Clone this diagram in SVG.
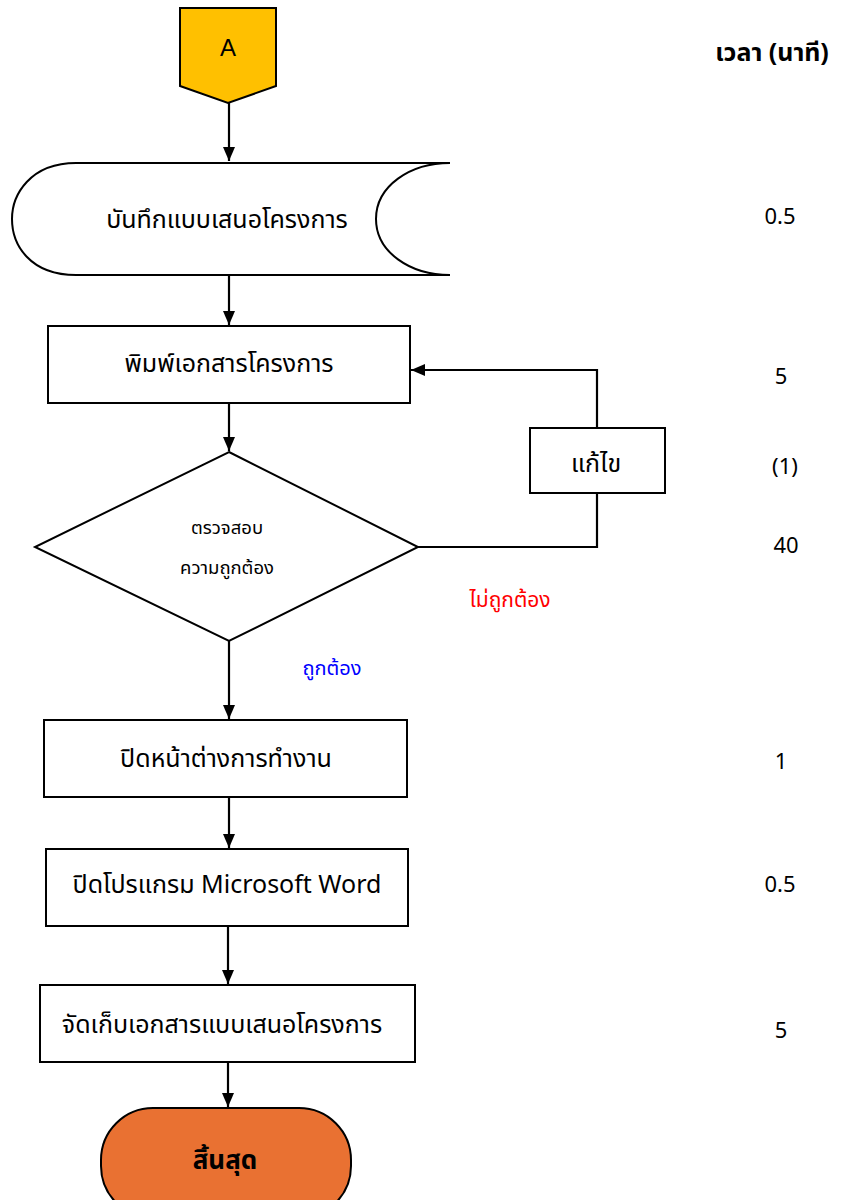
<svg xmlns="http://www.w3.org/2000/svg" width="847" height="1200" viewBox="0 0 847 1200">
<style>
.s{stroke:#000;stroke-width:2;fill:#fff}
.c{stroke:#000;stroke-width:2.2;fill:none}
.t{font-family:"Noto Sans","Noto Sans Thai","DejaVu Sans",sans-serif;font-size:25px;fill:#000;text-anchor:middle}
.m{font-family:"Noto Sans","Noto Sans Thai","DejaVu Sans",sans-serif;font-size:22px;fill:#000;text-anchor:middle}
.d{font-family:"Noto Sans","Noto Sans Thai","DejaVu Sans",sans-serif;font-size:18.5px;fill:#000;text-anchor:middle}
</style>
<defs>
<marker id="a" viewBox="0 0 14 14" refX="14" refY="7" markerWidth="14" markerHeight="14" markerUnits="userSpaceOnUse" orient="auto">
<path d="M0,1 L14,7 L0,13 z" fill="#000"/>
</marker>
</defs>
<rect width="847" height="1200" fill="#fff"/>
<g id="connectors">
<path class="c" d="M229,103 V161" marker-end="url(#a)"/>
<path class="c" d="M229,276 V325" marker-end="url(#a)"/>
<path class="c" d="M229,403 V451" marker-end="url(#a)"/>
<path class="c" d="M418,547 H597 V494"/>
<path class="c" d="M597,428 V370 H411" marker-end="url(#a)"/>
<path class="c" d="M229,641 V719" marker-end="url(#a)"/>
<path class="c" d="M229,797 V848" marker-end="url(#a)"/>
<path class="c" d="M228,926 V984" marker-end="url(#a)"/>
<path class="c" d="M228,1062 V1107" marker-end="url(#a)"/>
</g>
<g id="nodeA">
<path d="M180,8 H276 V86 L228,103 L180,86 Z" fill="#FFC000" stroke="#000" stroke-width="2"/>
<text x="228" y="56" style="font-family:'Liberation Sans',Arial,sans-serif;font-size:24px;text-anchor:middle">A</text>
</g>
<g id="stored">
<path class="s" d="M450,163 H76 C30,163 12,195 12,219 C12,245 30,275 76,275 H450 C410,275 376,252 376,219 C376,186 410,163 450,163"/>
<text class="t" x="227" y="228">บันทึกแบบเสนอโครงการ</text>
</g>
<g id="print">
<rect class="s" x="48" y="326" width="362" height="77"/>
<text class="t" x="229" y="372">พิมพ์เอกสารโครงการ</text>
</g>
<g id="check">
<path class="s" d="M229,452 L418,547 L229,641 L35,547 Z"/>
<text class="d" x="227" y="534">ตรวจสอบ</text>
<text class="d" x="227" y="574">ความถูกต้อง</text>
</g>
<g id="fix">
<rect class="s" x="530" y="428" width="135" height="65"/>
<text class="t" x="596" y="472">แก้ไข</text>
</g>
<g id="labels">
<text x="510" y="607" style="font-family:'Noto Sans','Noto Sans Thai','DejaVu Sans',sans-serif;font-size:21px;fill:#FF0000;text-anchor:middle">ไม่ถูกต้อง</text>
<text x="332" y="675" style="font-family:'Noto Sans','Noto Sans Thai','DejaVu Sans',sans-serif;font-size:20px;fill:#0000FF;text-anchor:middle">ถูกต้อง</text>
</g>
<g id="close">
<rect class="s" x="44" y="720" width="363" height="77"/>
<text class="t" x="226" y="767">ปิดหน้าต่างการทำงาน</text>
</g>
<g id="word">
<rect class="s" x="46" y="849" width="362" height="77"/>
<text class="t" x="227" y="893">ปิดโปรแกรม Microsoft Word</text>
</g>
<g id="store">
<rect class="s" x="40" y="985" width="375" height="77"/>
<text class="t" x="222" y="1033">จัดเก็บเอกสารแบบเสนอโครงการ</text>
</g>
<g id="end">
<rect x="101" y="1108" width="250" height="110" rx="52" ry="52" fill="#E97132" stroke="#000" stroke-width="2"/>
<text x="225" y="1169" style="font-family:'Noto Sans','Noto Sans Thai','DejaVu Sans',sans-serif;font-size:26px;font-weight:bold;text-anchor:middle">สิ้นสุด</text>
</g>
<g id="times">
<text x="772" y="61" style="font-family:'Noto Sans','Noto Sans Thai','DejaVu Sans',sans-serif;font-size:25px;font-weight:bold;text-anchor:middle">เวลา (นาที)</text>
<text class="m" x="780" y="224">0.5</text>
<text class="m" x="781" y="384">5</text>
<text class="m" x="785" y="474">(1)</text>
<text class="m" x="786" y="553">40</text>
<text class="m" x="781" y="769">1</text>
<text class="m" x="780" y="892">0.5</text>
<text class="m" x="781" y="1038">5</text>
</g>
</svg>
